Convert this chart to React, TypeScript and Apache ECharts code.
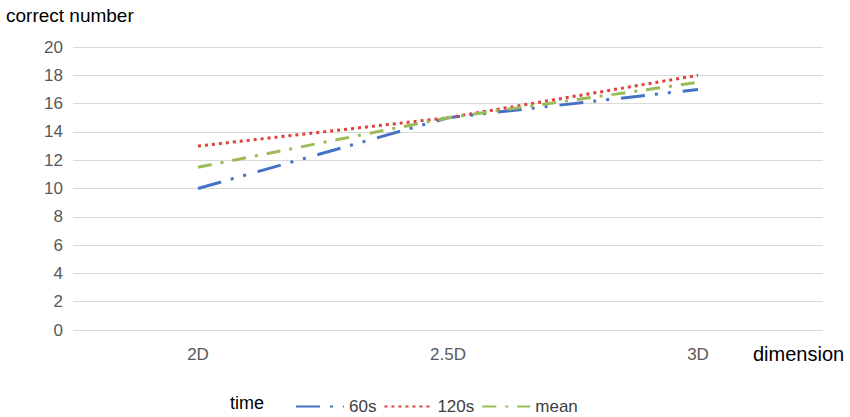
import React, { useEffect, useRef } from "react";
import * as echarts from "echarts";

const categories = ["2D", "2.5D", "3D"];
const s60 = [10, 15, 17];
const s120 = [13, 15, 18];
const sMean = [11.5, 15, 17.5];
const seriesNames = ["60s", "120s", "mean"];

export default function App() {
  const ref = useRef<HTMLDivElement>(null);
  useEffect(() => {
    if (!ref.current) return;
    const chart = echarts.init(ref.current, null, { renderer: "svg" });
    const font = "'Liberation Sans', Arial, sans-serif";
    chart.setOption({
      animation: false,
      backgroundColor: "#ffffff",
      textStyle: { fontFamily: font },
      grid: { left: 73, right: 27, top: 47, bottom: 87 },
      xAxis: {
        type: "category",
        data: categories,
        boundaryGap: true,
        axisLine: { show: false },
        axisTick: { show: false },
        axisLabel: { color: "#595959", fontSize: 17, margin: 16, fontFamily: font },
      },
      yAxis: {
        type: "value",
        min: 0,
        max: 20,
        interval: 2,
        axisLine: { show: false },
        axisTick: { show: false },
        axisLabel: { color: "#595959", fontSize: 17, margin: 10, fontFamily: font },
        splitLine: { lineStyle: { color: "#d9d9d9", width: 1 } },
      },
      legend: {
        left: 290,
        top: 393,
        itemWidth: 48,
        itemHeight: 12,
        itemGap: 7,
        itemStyle: { opacity: 0 },
        textStyle: { color: "#404040", fontSize: 17, fontFamily: font },
        data: seriesNames,
      },
      graphic: [
        {
          type: "text",
          left: 6,
          top: 6,
          style: { text: "correct number", fill: "#000000", fontSize: 19, fontFamily: font },
        },
        {
          type: "text",
          left: 753,
          top: 344,
          style: { text: "dimension", fill: "#000000", fontSize: 20, fontFamily: font },
        },
        {
          type: "text",
          left: 230,
          top: 394,
          style: { text: "time", fill: "#000000", fontSize: 18, fontFamily: font },
        },
      ],
      series: [
        {
          name: seriesNames[0],
          type: "line",
          data: s60,
          symbol: "none",
          color: "#4472C4",
          lineStyle: { color: "#4472C4", width: 3, type: [24, 10, 3, 10, 3, 12], cap: "butt" },
        },
        {
          name: seriesNames[1],
          type: "line",
          data: s120,
          symbol: "none",
          color: "#E0403A",
          lineStyle: { color: "#E0403A", width: 3, type: [3, 4], cap: "butt" },
        },
        {
          name: seriesNames[2],
          type: "line",
          data: sMean,
          symbol: "none",
          color: "#9BBB59",
          lineStyle: { color: "#9BBB59", width: 3, type: [14, 9, 3, 9], cap: "butt" },
        },
      ],
    });
    return () => chart.dispose();
  }, []);
  return <div ref={ref} style={{ width: 850, height: 417, position: "absolute", left: 0, top: 0 }} />;
}
